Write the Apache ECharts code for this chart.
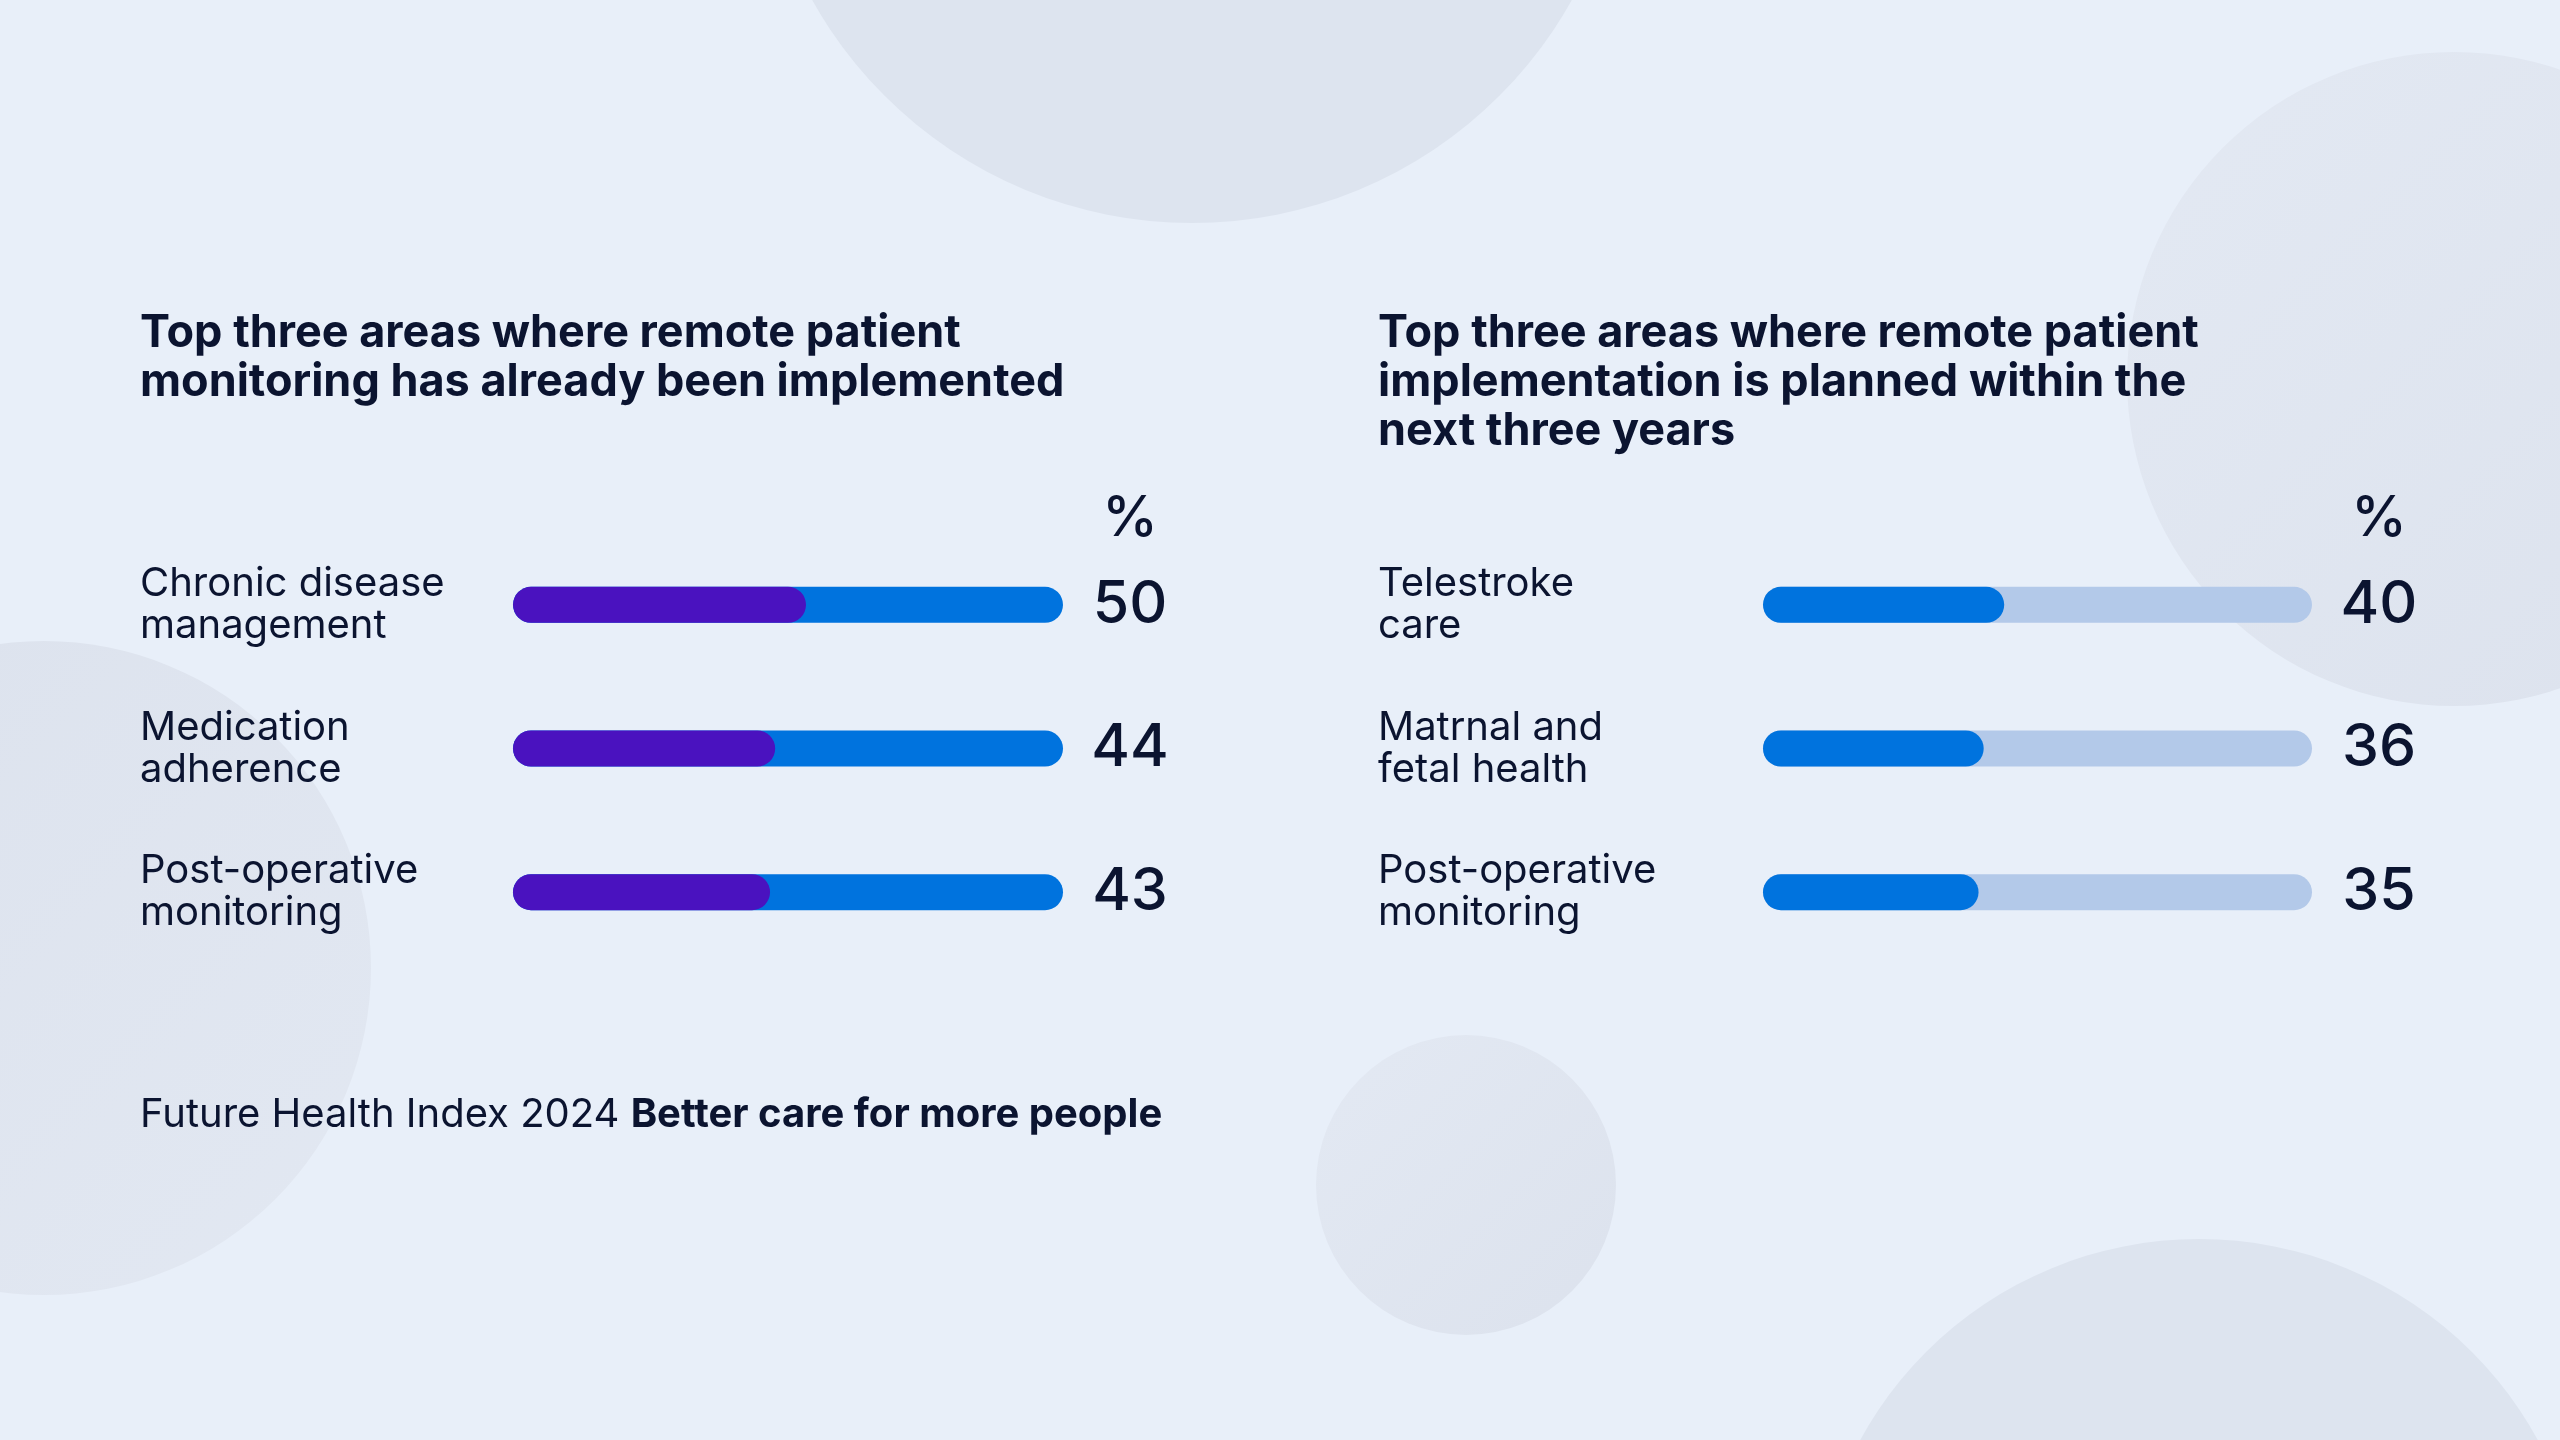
<!DOCTYPE html>
<html>
<head>
<meta charset="utf-8">
<script src="https://cdn.jsdelivr.net/npm/echarts@6/dist/echarts.min.js"></script>
<style>
html,body{margin:0;padding:0;background:#e8eff9;}
#chart{width:2560px;height:1440px;}
</style>
</head>
<body>
<div id="chart"></div>
<script>
// ---- data ----
const leftTitle = "Top three areas where remote patient\nmonitoring has already been implemented";
const rightTitle = "Top three areas where remote patient\nimplementation is planned within the\nnext three years";
const leftCategories = ["Chronic disease\nmanagement", "Medication\nadherence", "Post-operative\nmonitoring"];
const leftValues = [50, 44, 43];
const rightCategories = ["Telestroke\ncare", "Matrnal and\nfetal health", "Post-operative\nmonitoring"];
const rightValues = [40, 36, 35];
const unitLabel = "%";
const footerNormal = "Future Health Index 2024 ";
const footerBold = "Better care for more people";

const FONT = "Inter, 'Noto Sans', sans-serif";
const INK = "#0b1430";
const R = 18;

function makeRender(trackColor, fillColor) {
  return function (params, api) {
    const cat = api.value(1);
    const v = api.value(0);
    const p0 = api.coord([0, cat]);
    const p1 = api.coord([v, cat]);
    const p100 = api.coord([100, cat]);
    const y = p0[1];
    return {
      type: 'group',
      children: [
        { type: 'rect', shape: { x: p0[0] - R, y: y - R, width: p100[0] - p0[0] + 2 * R, height: 2 * R, r: R }, style: { fill: trackColor } },
        { type: 'rect', shape: { x: p0[0] - R, y: y - R, width: p1[0] - p0[0] + 2 * R, height: 2 * R, r: R }, style: { fill: fillColor } },
        { type: 'text', x: p100[0] + 85, y: y, style: { text: String(v), fill: INK, font: '500 59px ' + FONT, textAlign: 'center', textVerticalAlign: 'middle' } }
      ]
    };
  };
}

const chart = echarts.init(document.getElementById('chart'));
const axisLabelBase = { color: INK, fontFamily: FONT, fontSize: 40, lineHeight: 42, align: 'left' };

function circleFill(a, b) {
  return new echarts.graphic.LinearGradient(0, 0, 1, 1, [{ offset: 0, color: a }, { offset: 1, color: b }]);
}

const option = {
  backgroundColor: '#e8eff9',
  animation: false,
  graphic: [
    { type: 'circle', z: -10, shape: { cx: 1192, cy: -212, r: 435 }, style: { fill: '#dde4ef' } },
    { type: 'circle', z: -10, shape: { cx: 2454, cy: 379, r: 327 }, style: { fill: circleFill('#e3e9f3', '#dce2ed') } },
    { type: 'circle', z: -10, shape: { cx: 44, cy: 968, r: 327 }, style: { fill: circleFill('#dce2ed', '#e2e8f2') } },
    { type: 'circle', z: -10, shape: { cx: 1466, cy: 1185, r: 150 }, style: { fill: circleFill('#e3e9f3', '#dce2ed') } },
    { type: 'circle', z: -10, shape: { cx: 2199, cy: 1625, r: 386 }, style: { fill: '#dde4ef' } },
    { type: 'text', left: 140, top: 309, style: { text: leftTitle, fill: INK, font: 'bold 45px ' + FONT, lineHeight: 49 } },
    { type: 'text', left: 1378, top: 309, style: { text: rightTitle, fill: INK, font: 'bold 45px ' + FONT, lineHeight: 49 } },
    { type: 'text', x: 1130, y: 519, style: { text: unitLabel, fill: INK, font: '500 56px ' + FONT, textAlign: 'center', textVerticalAlign: 'middle' } },
    { type: 'text', x: 2379, y: 519, style: { text: unitLabel, fill: INK, font: '500 56px ' + FONT, textAlign: 'center', textVerticalAlign: 'middle' } },
    { type: 'text', x: 140, y: 1115, style: {
        text: '{n|' + footerNormal + '}{b|' + footerBold + '}',
        textVerticalAlign: 'middle',
        rich: {
          n: { fill: INK, fontFamily: FONT, fontSize: 40, fontWeight: 'normal' },
          b: { fill: INK, fontFamily: FONT, fontSize: 40, fontWeight: 'bold' }
        }
      } }
  ],
  grid: [
    { left: 531, width: 514, top: 533, height: 431 },
    { left: 1781, width: 513, top: 533, height: 431 }
  ],
  xAxis: [
    { gridIndex: 0, type: 'value', min: 0, max: 100, show: false },
    { gridIndex: 1, type: 'value', min: 0, max: 100, show: false }
  ],
  yAxis: [
    { gridIndex: 0, type: 'category', inverse: true, data: leftCategories, axisLine: { show: false }, axisTick: { show: false }, splitLine: { show: false },
      axisLabel: Object.assign({ margin: 391 }, axisLabelBase) },
    { gridIndex: 1, type: 'category', inverse: true, data: rightCategories, axisLine: { show: false }, axisTick: { show: false }, splitLine: { show: false },
      axisLabel: Object.assign({ margin: 403 }, axisLabelBase) }
  ],
  series: [
    { type: 'custom', xAxisIndex: 0, yAxisIndex: 0, renderItem: makeRender('#0073de', '#4a12bf'),
      encode: { x: 0, y: 1 }, data: leftValues.map((v, i) => [v, leftCategories[i]]) },
    { type: 'custom', xAxisIndex: 1, yAxisIndex: 1, renderItem: makeRender('#b3c9e9', '#0073de'),
      encode: { x: 0, y: 1 }, data: rightValues.map((v, i) => [v, rightCategories[i]]) }
  ]
};
chart.setOption(option);
</script>
</body>
</html>
